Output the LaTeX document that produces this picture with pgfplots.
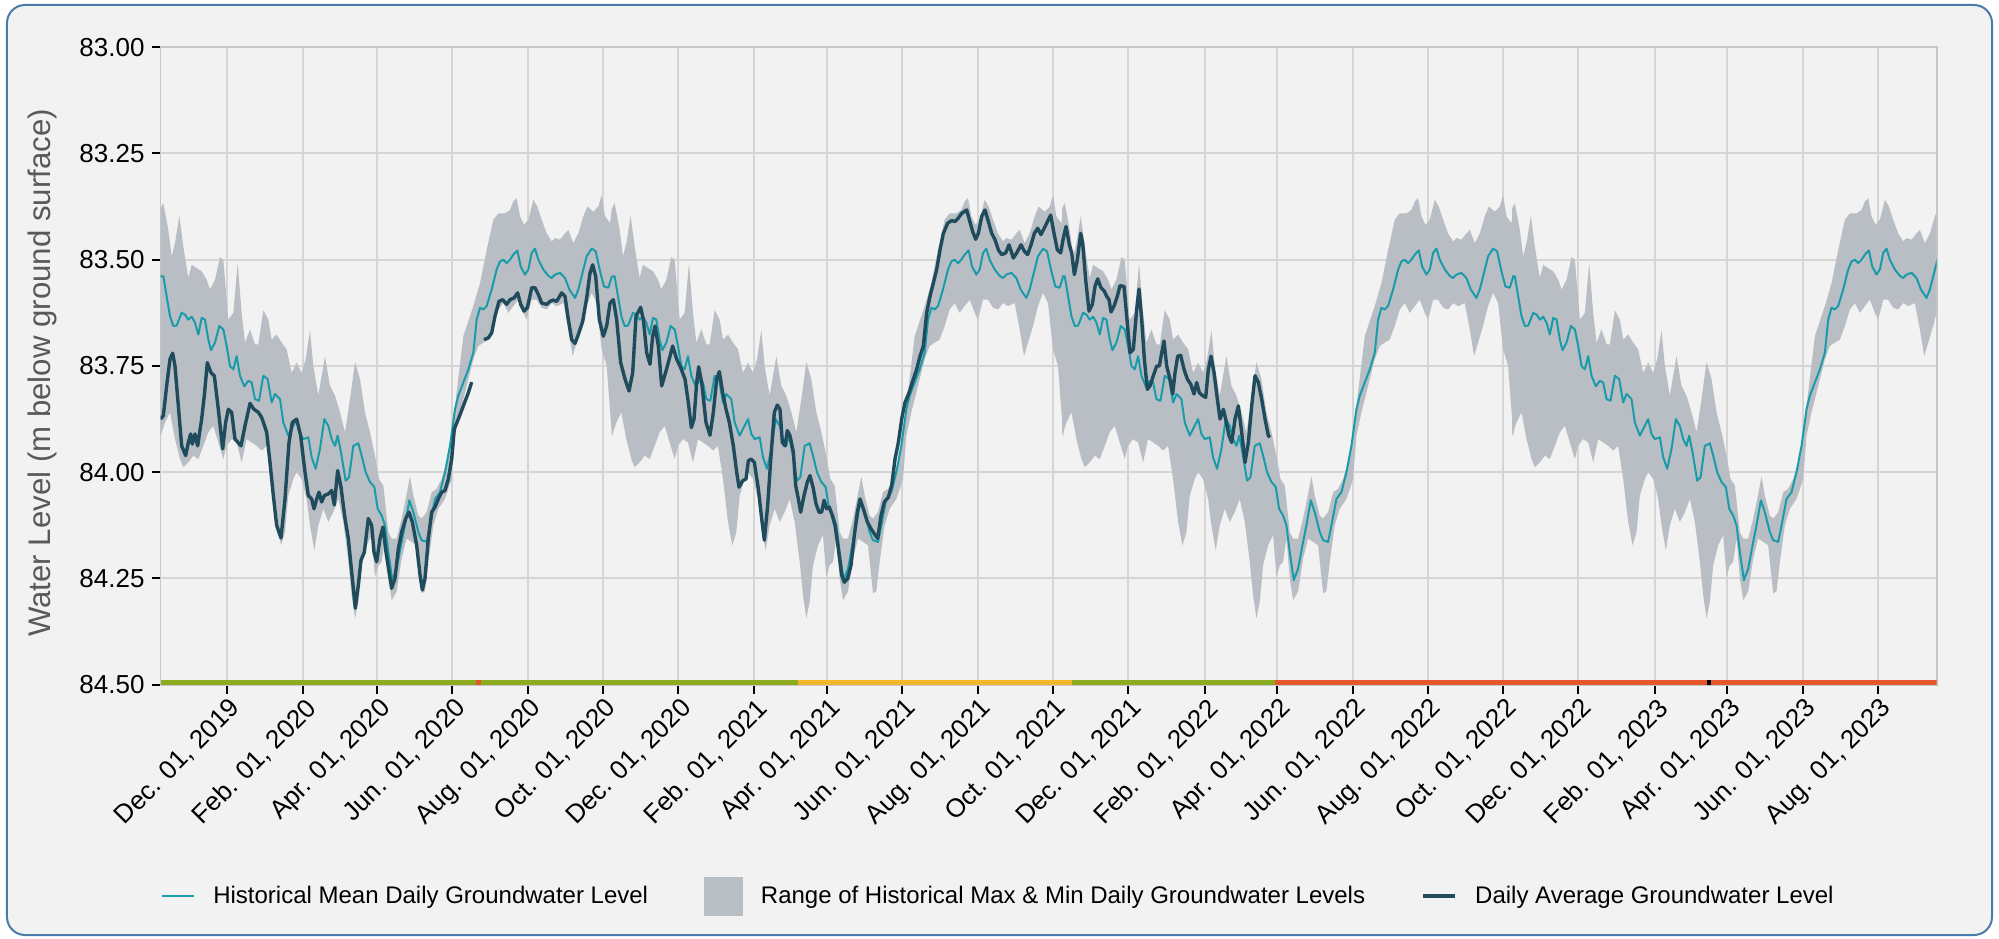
\documentclass[border=0pt]{standalone}
\usepackage{fontspec}
\setmainfont{Liberation Sans}
\usepackage{pgfplots}
\pgfplotsset{compat=1.18}
\usepackage{pgfplotstable}

\definecolor{bgc}{HTML}{F2F2F2}
\definecolor{gridc}{HTML}{D5D5D5}
\definecolor{bandc}{HTML}{B9BEC4}
\definecolor{meanc}{HTML}{1A9BAA}
\definecolor{avgc}{HTML}{1F4B5C}
\definecolor{framec}{HTML}{4A7BAA}
\definecolor{greenc}{HTML}{8BAA1E}
\definecolor{yellowc}{HTML}{F2B52C}
\definecolor{redc}{HTML}{E5572B}
\definecolor{labelc}{HTML}{595959}

% one annual cycle of the historical max/min range (days from Dec 1, 2019):
% upper edge forward, then lower edge backward (closed polygon)
\pgfplotstableread{
d v
-53.6 83.379
-51.39 83.367
-47.33 83.430
-44.63 83.492
-41.93 83.461
-38.41 83.397
-35.17 83.469
-31.11 83.543
-28.41 83.512
-24.36 83.520
-20.30 83.527
-16.25 83.547
-13.54 83.570
-9.49 83.547
-5.43 83.494
-2.73 83.500
1.32 83.641
5.38 83.625
8.89 83.508
12.14 83.625
14.84 83.695
18.90 83.664
22.95 83.699
25.65 83.699
29.71 83.619
33.76 83.641
36.47 83.688
40.52 83.676
44.58 83.695
48.63 83.711
52.69 83.766
56.74 83.742
60.80 83.766
64.04 83.734
67.55 83.666
70.26 83.750
74.31 83.820
77.01 83.773
79.72 83.727
83.77 83.797
87.83 83.820
91.88 83.859
95.94 83.906
99.99 83.828
104.05 83.741
108.10 83.781
112.16 83.859
116.21 83.906
120.27 83.961
123.51 84.016
127.02 84.031
131.08 84.141
133.78 84.156
137.84 84.156
141.89 84.109
145.14 84.063
148.65 84.010
151.35 84.055
155.41 84.102
158.11 84.109
162.17 84.094
166.22 84.047
170.27 84.039
174.33 84.016
178.38 83.977
182.44 83.906
185.14 83.844
191.90 83.680
200.01 83.609
205.42 83.555
210.83 83.477
216.23 83.406
220.29 83.391
225.69 83.391
229.75 83.383
232.45 83.363
235.15 83.355
237.86 83.398
241.10 83.418
244.62 83.406
248.67 83.359
251.91 83.375
255.43 83.406
259.48 83.438
263.54 83.457
266.24 83.449
270.30 83.453
274.35 83.438
277.05 83.430
281.11 83.461
285.16 83.438
289.22 83.398
292.46 83.375
297.33 83.387
301.38 83.375
304.09 83.348
306.79 83.398
310.84 83.414
312.4 83.379
312.4 83.915
308.14 83.750
304.09 83.711
300.03 83.602
295.98 83.578
291.92 83.609
287.87 83.656
283.81 83.695
280.57 83.727
277.05 83.664
273.00 83.602
267.59 83.609
263.54 83.602
259.48 83.617
255.43 83.613
251.37 83.594
247.32 83.594
243.26 83.641
240.56 83.625
236.51 83.594
232.45 83.609
228.40 83.625
224.34 83.602
220.29 83.617
216.23 83.656
212.18 83.688
208.12 83.695
204.07 83.703
200.01 83.734
194.61 83.797
189.20 83.859
185.14 83.914
182.44 84.016
177.03 84.063
171.63 84.086
167.57 84.125
163.52 84.211
160.81 84.280
158.11 84.285
154.06 84.172
150.00 84.164
145.95 84.156
141.89 84.203
137.84 84.281
133.78 84.301
131.08 84.250
128.38 84.156
125.67 84.211
122.97 84.219
120.27 84.246
117.56 84.148
113.51 84.172
109.45 84.219
106.75 84.305
104.05 84.344
101.34 84.289
98.64 84.211
94.59 84.117
90.53 84.063
86.48 84.094
82.42 84.117
78.37 84.086
74.31 84.125
71.07 84.184
67.55 84.125
64.85 84.063
60.80 84.016
56.74 84.000
54.04 84.016
49.98 84.055
47.28 84.141
44.04 84.172
40.52 84.117
36.47 84.016
32.41 83.938
28.36 83.949
24.30 83.938
20.25 83.930
16.19 83.922
12.14 83.977
8.08 83.930
4.03 83.922
-0.03 83.938
-2.73 83.969
-6.79 83.930
-10.84 83.891
-14.90 83.906
-18.95 83.938
-23.00 83.969
-27.06 83.961
-31.11 83.977
-35.17 83.988
-37.87 83.969
-41.93 83.922
-45.98 83.859
-50.04 83.883
-53.6 83.915
}\cycBand

\pgfplotstableread{
d v
-53.6 83.539
-51.39 83.539
-48.69 83.586
-45.98 83.633
-43.28 83.656
-40.58 83.655
-36.52 83.625
-33.82 83.629
-31.11 83.641
-28.41 83.634
-25.71 83.648
-23.00 83.676
-20.30 83.637
-17.60 83.641
-14.90 83.688
-12.73 83.713
-9.49 83.695
-5.97 83.656
-2.73 83.664
-0.03 83.703
2.68 83.750
5.38 83.758
8.08 83.727
10.79 83.773
14.30 83.798
17.54 83.785
20.25 83.789
22.95 83.828
26.19 83.832
29.71 83.773
33.22 83.781
36.47 83.836
39.17 83.816
43.22 83.828
45.93 83.883
49.98 83.914
52.69 83.898
56.74 83.875
59.44 83.910
62.15 83.922
66.20 83.918
68.90 83.965
72.15 83.992
75.66 83.945
79.18 83.875
82.42 83.891
85.12 83.922
87.83 83.938
89.99 83.914
92.69 83.953
96.48 84.020
99.18 84.012
102.69 83.938
106.75 83.932
109.45 83.961
112.70 84.000
116.21 84.023
119.73 84.035
122.43 84.086
125.67 84.102
128.38 84.125
131.08 84.188
134.32 84.254
137.84 84.227
141.35 84.172
144.59 84.125
148.11 84.066
151.35 84.094
155.41 84.141
158.11 84.160
162.17 84.164
164.87 84.125
168.92 84.063
172.98 84.047
177.03 84.000
181.09 83.938
185.14 83.852
187.85 83.820
191.90 83.789
195.96 83.758
200.01 83.719
202.72 83.641
205.42 83.613
208.12 83.617
210.83 83.609
214.88 83.570
218.94 83.523
221.64 83.504
224.34 83.500
227.04 83.508
229.75 83.500
232.45 83.488
235.70 83.478
238.40 83.516
241.91 83.535
244.62 83.523
247.32 83.484
250.02 83.474
252.73 83.500
256.78 83.523
260.83 83.538
263.54 83.543
266.24 83.535
270.30 83.531
274.35 83.543
277.87 83.570
282.46 83.590
285.16 83.570
287.87 83.539
291.92 83.492
295.98 83.474
299.22 83.480
302.73 83.527
305.98 83.563
309.49 83.566
312.4 83.539
}\cycMean

\pgfplotstableread{
d v
-53.6 83.875
-51.39 83.867
-48.69 83.797
-45.98 83.734
-43.82 83.720
-41.93 83.750
-39.22 83.844
-36.52 83.938
-33.28 83.961
-31.11 83.930
-29.22 83.910
-27.87 83.934
-25.71 83.910
-23.55 83.938
-20.30 83.875
-18.14 83.820
-15.71 83.742
-12.73 83.766
-10.03 83.773
-6.79 83.852
-3.27 83.945
-0.84 83.883
1.32 83.852
4.03 83.859
6.73 83.922
11.60 83.938
14.84 83.891
18.90 83.838
22.14 83.852
25.65 83.859
28.36 83.871
32.41 83.906
35.11 83.977
37.82 84.055
40.52 84.125
44.04 84.155
47.28 84.063
50.52 83.930
53.23 83.883
56.74 83.875
59.98 83.914
63.50 84.000
66.20 84.055
68.90 84.063
70.80 84.086
72.96 84.063
74.85 84.047
77.01 84.070
79.18 84.055
82.42 84.051
85.12 84.043
87.29 84.077
89.99 83.996
92.69 84.035
95.94 84.109
98.64 84.156
101.88 84.250
104.32 84.320
106.75 84.266
108.91 84.207
111.62 84.188
114.86 84.109
117.56 84.125
119.45 84.188
121.62 84.211
124.32 84.156
126.75 84.129
129.19 84.188
131.62 84.234
133.78 84.273
136.48 84.250
139.19 84.180
141.89 84.141
145.14 84.109
147.84 84.094
150.54 84.117
154.06 84.172
156.76 84.242
158.65 84.277
160.81 84.250
163.52 84.156
166.22 84.094
168.92 84.082
171.63 84.063
174.33 84.047
177.03 84.043
179.74 84.016
182.44 83.969
184.60 83.898
187.85 83.875
191.90 83.844
195.96 83.813
198.66 83.788
}\avgA

\pgfplotstableread{
d v
208.66 83.688
212.18 83.684
214.88 83.672
217.58 83.633
220.83 83.598
223.80 83.594
227.04 83.605
229.75 83.594
232.99 83.590
235.97 83.578
238.40 83.605
241.10 83.621
243.80 83.613
247.32 83.566
250.02 83.566
252.73 83.582
255.43 83.602
259.48 83.605
262.19 83.598
264.89 83.595
267.59 83.598
271.65 83.578
274.35 83.586
277.05 83.641
279.76 83.688
282.46 83.697
285.16 83.676
288.68 83.645
291.92 83.590
294.62 83.531
296.79 83.512
299.22 83.539
302.19 83.641
305.44 83.680
308.14 83.656
310.84 83.602
313.55 83.594
316.25 83.641
319.49 83.742
323.01 83.781
326.25 83.809
329.23 83.766
331.93 83.633
335.71 83.612
337.88 83.641
340.58 83.719
343.28 83.746
345.45 83.680
347.34 83.656
350.04 83.703
352.74 83.797
356.26 83.762
359.50 83.727
361.66 83.703
364.91 83.734
368.15 83.754
371.67 83.781
374.37 83.836
376.80 83.895
378.96 83.875
381.13 83.789
382.75 83.752
385.18 83.789
388.70 83.883
391.94 83.913
394.64 83.859
397.35 83.781
399.51 83.763
402.21 83.813
404.92 83.852
407.62 83.883
410.86 83.938
413.57 84.000
415.46 84.035
418.43 84.020
421.13 84.016
423.03 83.973
425.19 83.969
427.89 83.977
431.13 84.039
433.84 84.109
436.00 84.160
438.70 84.078
441.41 83.961
444.11 83.859
446.54 83.842
448.70 83.852
450.60 83.930
452.76 83.938
454.65 83.902
456.81 83.914
459.52 83.953
461.41 84.031
463.57 84.063
465.46 84.094
468.17 84.055
470.87 84.023
473.03 84.008
475.74 84.039
477.90 84.074
480.33 84.094
482.49 84.094
484.39 84.066
486.55 84.086
488.71 84.082
491.14 84.102
493.31 84.125
496.01 84.180
498.71 84.242
500.88 84.259
503.58 84.250
506.28 84.219
508.99 84.148
511.42 84.094
513.58 84.063
516.28 84.086
519.53 84.117
522.50 84.133
525.20 84.145
527.91 84.156
530.61 84.102
533.31 84.070
536.56 84.059
539.26 84.031
541.96 83.969
544.67 83.930
547.37 83.875
550.07 83.836
553.32 83.813
556.83 83.781
559.54 83.758
562.24 83.727
564.94 83.703
567.64 83.625
570.35 83.586
573.05 83.555
575.75 83.523
578.46 83.477
581.16 83.438
584.68 83.414
587.92 83.408
590.62 83.410
593.33 83.402
596.03 83.391
600.08 83.383
602.25 83.406
604.95 83.434
607.38 83.452
609.54 83.438
612.25 83.398
614.95 83.383
617.65 83.410
620.36 83.438
623.06 83.453
625.76 83.477
628.47 83.488
631.71 83.484
634.41 83.465
637.93 83.496
640.63 83.484
644.15 83.465
646.85 83.480
649.55 83.488
652.26 83.465
654.96 83.438
657.66 83.426
660.36 83.441
664.96 83.414
668.20 83.395
670.90 83.438
673.61 83.477
676.31 83.484
678.47 83.449
680.64 83.422
683.34 83.465
685.23 83.484
687.39 83.535
689.83 83.500
692.53 83.438
694.15 83.461
696.58 83.547
699.29 83.621
701.99 83.605
704.15 83.563
706.32 83.545
709.02 83.566
711.72 83.574
713.61 83.586
715.51 83.594
717.13 83.623
719.56 83.609
722.26 83.586
724.43 83.561
727.67 83.563
729.83 83.633
732.54 83.719
735.24 83.711
737.94 83.617
739.84 83.569
742.00 83.641
744.16 83.734
746.59 83.805
748.76 83.797
751.46 83.773
754.16 83.750
756.33 83.750
758.22 83.719
760.11 83.691
762.27 83.750
764.98 83.781
767.14 83.816
769.03 83.766
771.19 83.727
773.63 83.725
776.33 83.758
779.03 83.781
781.74 83.793
784.44 83.816
786.60 83.789
788.76 83.813
791.47 83.820
793.90 83.824
796.06 83.758
798.22 83.727
800.66 83.766
803.36 83.828
805.52 83.875
808.23 83.852
810.39 83.879
812.82 83.914
814.98 83.930
817.69 83.875
820.39 83.844
823.09 83.906
825.80 83.977
828.50 83.930
831.20 83.844
833.91 83.773
836.61 83.789
839.31 83.828
842.02 83.875
844.72 83.914
846.07 83.918
}\avgB

\begin{document}
\begin{tikzpicture}
\fill[white] (-80.3pt,-126.65pt) rectangle (919.2pt,342.35pt);
\draw[framec, line width=1pt, fill=bgc, rounded corners=9pt] (-76.8pt,-125.15pt) rectangle (915.7pt,339.85pt);
\begin{axis}[
  at={(0pt,0pt)}, anchor=south west,
  scale only axis, width=888.05pt, height=318.75pt,
  xmin=-53.6, xmax=1386.7, ymin=83, ymax=84.5, y dir=reverse,
  axis background/.style={fill=none},
  axis line style={draw=black!22, line width=0.8pt},
  grid=major, major grid style={draw=gridc, line width=1pt},
  tick align=outside, tick pos=left, major tick length=4.5pt,
  tick style={draw=black, line width=1pt},
  ytick={83,83.25,83.5,83.75,84,84.25,84.5},
  yticklabels={83.00,83.25,83.50,83.75,84.00,84.25,84.50},
  xtick={0,62,122,183,244,305,366,428,487,548,609,670,731,793,852,913,974,1035,1096,1158,1217,1278,1339},
  xticklabels={{Dec. 01, 2019},{Feb. 01, 2020},{Apr. 01, 2020},{Jun. 01, 2020},{Aug. 01, 2020},{Oct. 01, 2020},{Dec. 01, 2020},{Feb. 01, 2021},{Apr. 01, 2021},{Jun. 01, 2021},{Aug. 01, 2021},{Oct. 01, 2021},{Dec. 01, 2021},{Feb. 01, 2022},{Apr. 01, 2022},{Jun. 01, 2022},{Aug. 01, 2022},{Oct. 01, 2022},{Dec. 01, 2022},{Feb. 01, 2023},{Apr. 01, 2023},{Jun. 01, 2023},{Aug. 01, 2023}},
  xticklabel style={rotate=45, anchor=north east, font=\fontsize{13}{15}\selectfont, xshift=3pt, yshift=2pt},
  yticklabel style={font=\fontsize{13}{15}\selectfont},
  ylabel={Water Level (m below ground surface)},
  every axis y label/.style={at={(axis description cs:-0.0668,0.489)}, rotate=90, anchor=center, font=\fontsize{15.6}{18}\selectfont, text=labelc},
  legend style={at={(0.4723,-0.3315)}, anchor=center, draw=none, fill=none, legend columns=3, font=\fontsize{12}{14}\selectfont, /tikz/every even column/.append style={column sep=26pt}, /tikz/every odd column/.append style={column sep=7pt}},
  legend cell align=left,
]
\addlegendimage{legend image code/.code={\draw[meanc, line width=1pt] (0pt,0pt) -- (16pt,0pt);}}
\addlegendentry{Historical Mean Daily Groundwater Level}
\addlegendimage{legend image code/.code={\fill[bandc] (0pt,-9.5pt) rectangle (19pt,9.5pt);}}
\addlegendentry{Range of Historical Max \& Min Daily Groundwater Levels}
\addlegendimage{legend image code/.code={\draw[avgc, line width=2pt] (0pt,0pt) -- (16pt,0pt);}}
\addlegendentry{Daily Average Groundwater Level}

% historical range band, one copy per year
\addplot[fill=bandc, draw=none, forget plot] table[x=d,y=v] {\cycBand} -- cycle;
\addplot[fill=bandc, draw=none, forget plot] table[x expr=\thisrow{d}+366,y=v] {\cycBand} -- cycle;
\addplot[fill=bandc, draw=none, forget plot] table[x expr=\thisrow{d}+731,y=v] {\cycBand} -- cycle;
\addplot[fill=bandc, draw=none, forget plot] table[x expr=\thisrow{d}+1096,y=v] {\cycBand} -- cycle;

% historical mean
\addplot[meanc, line width=1pt, line join=round, forget plot] table[x=d,y=v] {\cycMean};
\addplot[meanc, line width=1pt, line join=round, forget plot] table[x expr=\thisrow{d}+366,y=v] {\cycMean};
\addplot[meanc, line width=1pt, line join=round, forget plot] table[x expr=\thisrow{d}+731,y=v] {\cycMean};
\addplot[meanc, line width=1pt, line join=round, forget plot] table[x expr=\thisrow{d}+1096,y=v] {\cycMean};

% daily average
\addplot[avgc, line width=1.7pt, line join=round, forget plot] table[x=d,y=v] {\avgA};
\addplot[avgc, line width=1.7pt, line join=round, forget plot] table[x=d,y=v] {\avgB};

% status strip
\addplot[greenc, line width=2.35pt, forget plot] coordinates {(-53.6,84.4945) (202.3,84.4945)};
\addplot[redc, line width=2.35pt, forget plot] coordinates {(202.3,84.4945) (206.3,84.4945)};
\addplot[greenc, line width=2.35pt, forget plot] coordinates {(206.3,84.4945) (463.6,84.4945)};
\addplot[yellowc, line width=2.35pt, forget plot] coordinates {(463.6,84.4945) (685.2,84.4945)};
\addplot[greenc, line width=2.35pt, forget plot] coordinates {(685.2,84.4945) (850.4,84.4945)};
\addplot[redc, line width=2.35pt, forget plot] coordinates {(850.4,84.4945) (1200.2,84.4945)};
\addplot[black, line width=2.35pt, forget plot] coordinates {(1200.2,84.4945) (1203.4,84.4945)};
\addplot[redc, line width=2.35pt, forget plot] coordinates {(1203.4,84.4945) (1386.7,84.4945)};
\end{axis}
\end{tikzpicture}
\end{document}
